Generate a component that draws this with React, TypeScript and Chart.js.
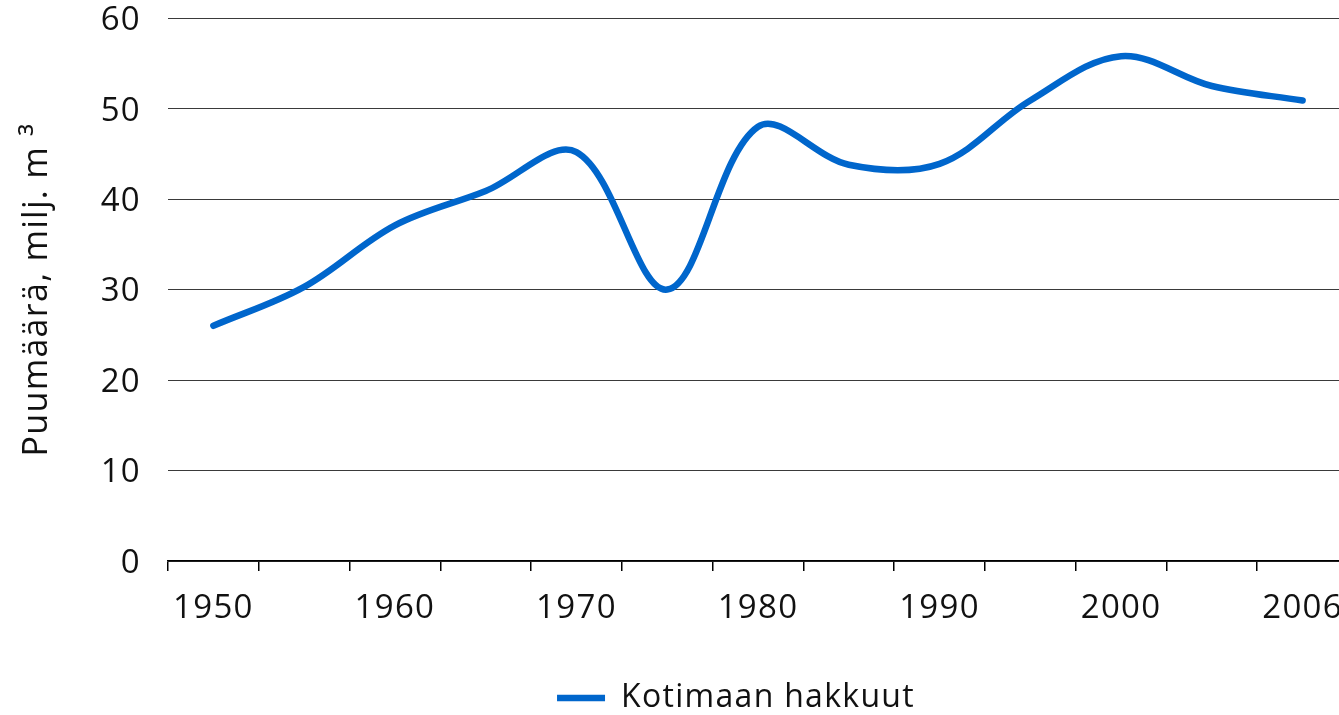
import React, { useEffect, useRef } from 'react';
import { Chart, registerables } from 'chart.js';

Chart.register(...registerables);

// ---- data ----
const categories = ['1950', '1955', '1960', '1965', '1970', '1975', '1980', '1985', '1990', '1995', '2000', '2005', '2006'];
const shownLabels = ['1950', '1960', '1970', '1980', '1990', '2000', '2006'];
const harvest = [26.0, 30.3, 37.1, 40.9, 45.2, 30.0, 48.0, 43.8, 43.9, 50.9, 55.8, 52.5, 50.9];
const yTicks = [0, 10, 20, 30, 40, 50, 60];
const seriesName = 'Kotimaan hakkuut';
const yTitle = 'Puumäärä, milj. m ³';

const FONT = 'Open Sans';
const TEXT = '#111111';
const LINE = '#0066cc';

const W = 1348;
const H = 724;

export default function App() {
  const ref = useRef<HTMLCanvasElement | null>(null);

  useEffect(() => {
    document.body.style.margin = '0';
    document.body.style.overflow = 'hidden';
    document.documentElement.style.overflow = 'hidden';
    const canvas = ref.current;
    if (!canvas) return;

    const spacing = {
      id: 'spacing',
      beforeUpdate(chart: any) {
        chart.ctx.letterSpacing = '1.3px';
      },
      beforeDraw(chart: any) {
        chart.ctx.letterSpacing = '1.3px';
        const lg = chart.legend;
        if (lg) {
          lg.left = 2 * 736 - lg.right;
        }
      },
    };

    const chart = new Chart(canvas, {
      type: 'line',
      data: {
        labels: categories,
        datasets: [
          {
            label: seriesName,
            data: harvest,
            borderColor: LINE,
            backgroundColor: LINE,
            borderWidth: 6.5,
            pointRadius: 0,
            pointHoverRadius: 0,
            tension: 0.35,
            borderCapStyle: 'round',
            borderJoinStyle: 'round',
            fill: false,
          },
        ],
      },
      options: {
        responsive: false,
        devicePixelRatio: 1,
        animation: false,
        events: [],
        layout: { padding: 0 },
        plugins: {
          tooltip: { enabled: false },
          legend: {
            position: 'bottom',
            labels: {
              usePointStyle: true,
              pointStyle: 'line',
              pointStyleWidth: 48,
              padding: 10,
              color: TEXT,
              font: { family: FONT, size: 32 },
            },
          },
        },
        scales: {
          x: {
            type: 'category',
            offset: true,
            afterFit: (s: any) => {
              s.height = 111;
            },
            border: { display: true, color: '#000000', width: 1.5 },
            grid: {
              offset: true,
              drawOnChartArea: false,
              drawTicks: true,
              tickLength: 10,
              color: '#000000',
              tickColor: '#000000',
              lineWidth: 1.5,
            },
            ticks: {
              autoSkip: false,
              maxRotation: 0,
              minRotation: 0,
              padding: 0,
              color: TEXT,
              font: { family: FONT, size: 33, lineHeight: 2.3 },
              callback: (_v: any, i: number) => (shownLabels.includes(categories[i]) ? categories[i] : ''),
            },
          },
          y: {
            min: 0,
            max: 60,
            afterBuildTicks: (s: any) => {
              s.ticks = yTicks.map((v) => ({ value: v }));
            },
            afterFit: (s: any) => {
              s.width = 168;
            },
            border: { display: false },
            grid: {
              color: '#3a3a3a',
              lineWidth: 1,
              drawTicks: true,
              tickLength: 27,
              tickColor: 'rgba(0,0,0,0)',
            },
            ticks: {
              padding: 0,
              labelOffset: 2.5,
              color: TEXT,
              font: { family: FONT, size: 33, lineHeight: 1.1 },
            },
            title: {
              display: true,
              text: yTitle,
              color: TEXT,
              font: { family: FONT, size: 34, lineHeight: 1.2 },
              padding: { top: 16.6, bottom: 0 },
            },
          },
        },
      },
      plugins: [spacing],
    } as any);

    return () => {
      chart.destroy();
    };
  }, []);

  return (
    <div style={{ width: W, height: H, position: 'relative' }}>
      <canvas ref={ref} width={W} height={H} style={{ display: 'block', width: W, height: H }} />
    </div>
  );
}
